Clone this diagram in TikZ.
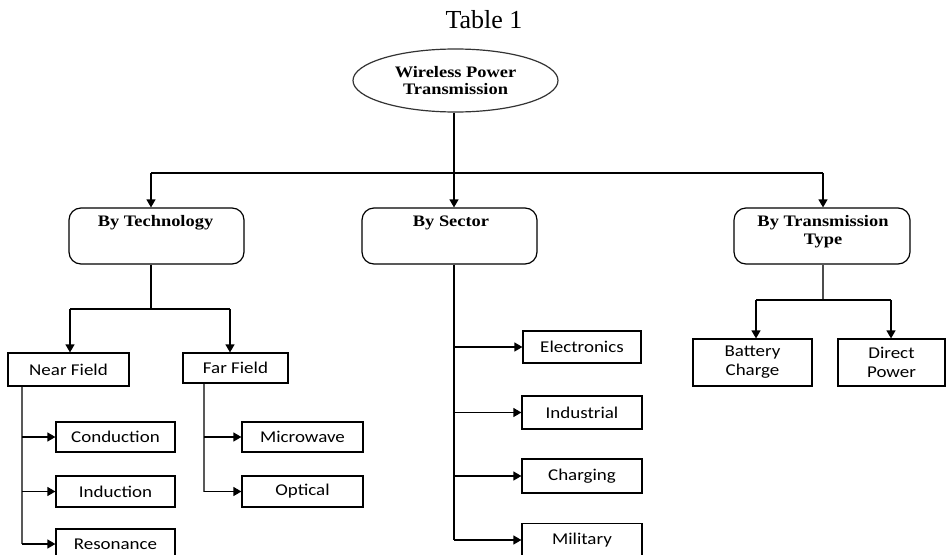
\documentclass[tikz,border=0pt]{standalone}
\usepackage{fontspec}
\setmainfont{Liberation Serif}
\newfontfamily\hdfont[FakeStretch=1.15]{Liberation Serif}
\newfontfamily\lbfont[FakeStretch=1.15]{Carlito}
\usetikzlibrary{arrows.meta,shapes.geometric}
\begin{document}
\begin{tikzpicture}[x=1pt,y=-1pt,
  line width=1.2pt,
  arr/.style={-{Triangle[length=8pt,width=9pt]}},
  rbox/.style={draw, rounded corners=12pt, line width=1.2pt, inner sep=0pt},
  sbox/.style={draw, line width=1.2pt, inner sep=0pt, align=center,
    font=\lbfont\fontsize{16.5}{19}\selectfont},
  htext/.style={font=\hdfont\bfseries\fontsize{16}{18}\selectfont, align=center, inner sep=0pt},
  gline/.style={draw=black!65, line width=1.6pt}
]
\useasboundingbox (0,0) rectangle (947,554);
\clip (0,0) rectangle (947,554);

% title
\node[font=\fontsize{26}{30}\selectfont, inner sep=0pt] (title) at (484,20) {Table 1};

% root
\node[draw=black!80, ellipse, minimum width=205pt, minimum height=63pt, inner sep=0pt,
  font=\hdfont\bfseries\fontsize{16}{17}\selectfont, align=center] (root) at (455.5,80.5)
  {Wireless Power\\Transmission};

% level 1 boxes
\node[rbox, minimum width=175pt, minimum height=56pt] (tech) at (156.5,236) {};
\node[htext] (tech-t) at (155.5,223) {By Technology};
\node[rbox, minimum width=175pt, minimum height=56pt] (sector) at (449.5,236) {};
\node[htext] (sector-t) at (451,223) {By Sector};
\node[rbox, minimum width=176pt, minimum height=56pt] (trans) at (822,236) {};
\node[htext] (trans-t) at (823,232) {By Transmission\\Type};

% technology children
\node[sbox, minimum width=121pt, minimum height=33pt] (near) at (68.5,369.5) {Near Field};
\node[sbox, minimum width=105pt, minimum height=30pt] (far) at (235.5,368) {Far Field};
\node[sbox, minimum width=119pt, minimum height=30pt] (cond) at (115.5,437) {Conduction};
\node[sbox, minimum width=119pt, minimum height=31pt] (ind) at (115.5,491.5) {Induction};
\node[sbox, minimum width=119pt, minimum height=30pt] (res) at (115.5,544) {Resonance};
\node[sbox, minimum width=121pt, minimum height=30pt] (micro) at (302.5,437) {Microwave};
\node[sbox, minimum width=121pt, minimum height=31pt] (opt) at (302.5,491.5) {Optical};

% sector children
\node[sbox, minimum width=118pt, minimum height=32pt] (elec) at (582,347) {Electronics};
\node[sbox, minimum width=120pt, minimum height=33pt] (indu) at (582,412.5) {Industrial};
\node[sbox, minimum width=120pt, minimum height=34pt] (charg) at (582,476) {Charging};
\node[sbox, minimum width=120pt, minimum height=33pt] (mil) at (582,540) {Military};

% transmission children
\node[sbox, minimum width=119pt, minimum height=47pt] (batt) at (752.5,362.5) {Battery\\Charge};
\node[sbox, minimum width=107pt, minimum height=47pt] (direct) at (891.5,362.5) {Direct\\Power};

% top connectors
\coordinate (top) at (454,173);
\coordinate (hl) at (151,173);
\coordinate (hr) at (823,173);
\draw (root.south -| top) -- (top);
\draw (hl) -- (hr);
\draw[arr] (hl) -- (hl |- tech.north);
\draw[arr] (top) -- (top |- sector.north);
\draw[arr] (hr) -- (hr |- trans.north);

% technology split
\coordinate (ts) at (151,309);
\coordinate (tsl) at (70,309);
\coordinate (tsr) at (230,309);
\draw (tech.south -| ts) -- (ts);
\draw (tsl) -- (tsr);
\draw[arr] (tsl) -- (tsl |- near.north);
\draw[arr] (tsr) -- (tsr |- far.north);

% near field branches
\coordinate (nv) at (22,0);
\draw[gline] (near.south -| nv) -- (nv |- res.west);
\draw[arr] (nv |- cond.west) -- (cond.west);
\draw[arr] (nv |- ind.west) -- (ind.west);
\draw[arr] (nv |- res.west) -- (res.west);

% far field branches
\coordinate (fv) at (204,0);
\draw[gline] (far.south -| fv) -- (fv |- opt.west);
\draw[arr] (fv |- micro.west) -- (micro.west);
\draw[arr] (fv |- opt.west) -- (opt.west);

% sector branches
\coordinate (sv) at (454,0);
\draw (sector.south -| sv) -- (sv |- mil.west);
\draw[arr] (sv |- elec.west) -- (elec.west);
\draw[arr] (sv |- indu.west) -- (indu.west);
\draw[arr] (sv |- charg.west) -- (charg.west);
\draw[arr] (sv |- mil.west) -- (mil.west);

% transmission split
\coordinate (tv) at (823,300);
\coordinate (tvl) at (756,300);
\coordinate (tvr) at (891,300);
\draw[draw=black!70] (trans.south -| tv) -- (tv);
\draw (tvl) -- (tvr);
\draw[arr] (tvl) -- (tvl |- batt.north);
\draw[arr] (tvr) -- (tvr |- direct.north);
\end{tikzpicture}
\end{document}
